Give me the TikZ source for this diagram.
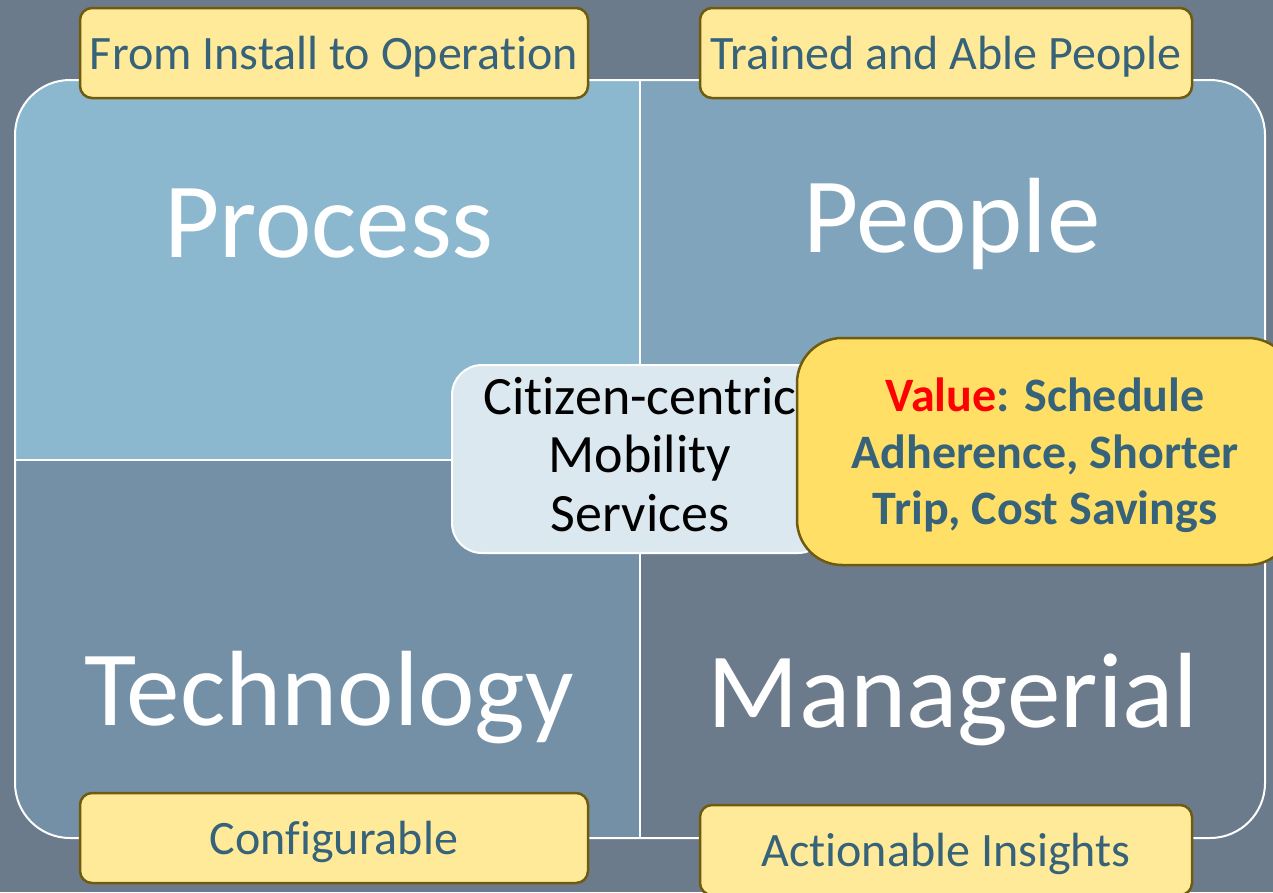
\documentclass[tikz,border=0pt]{standalone}
\usepackage{fontspec}
\setmainfont[Ligatures=NoCommon]{Carlito}
\usepackage{tikz}
\usetikzlibrary{positioning}

\definecolor{bgslate}{HTML}{6C7B8C}
\definecolor{qproc}{HTML}{8BB8CE}
\definecolor{qpeop}{HTML}{7FA4BB}
\definecolor{qtech}{HTML}{7490A7}
\definecolor{qmgr}{HTML}{6C7B8C}
\definecolor{tagfill}{HTML}{FFEA99}
\definecolor{tagline}{HTML}{6F5B0F}
\definecolor{tagtext}{HTML}{36627A}
\definecolor{valfill}{HTML}{FFDF66}
\definecolor{centfill}{HTML}{DCE8EF}

\tikzset{
	tag/.style={draw=tagline, line width=2.5pt, fill=tagfill, rounded corners=12pt,
		text=tagtext, minimum width=508pt, minimum height=90pt,
		text height=33pt, text depth=0pt, font=\fontsize{48}{52}\selectfont},
	word/.style={text=white, anchor=base, font=\fontsize{107}{112}\selectfont},
}

\begin{document}
\begin{tikzpicture}[x=1pt, y=-1pt]
	\useasboundingbox (0,0) rectangle (1273,892);
	\clip (0,0) rectangle (1273,892);
	\fill[bgslate] (0,0) rectangle (1273,892);
	
	% the four quadrants
	\coordinate (n) at (640,80);
	\coordinate (s) at (640,838);
	\coordinate (w) at (15,460);
	\coordinate (e) at (1265,460);
	\begin{scope}
		\clip[rounded corners=55pt] (15,80) rectangle (1265,838);
		\fill[qproc] (15,80) rectangle (640,460);
		\fill[qpeop] (640,80) rectangle (1265,460);
		\fill[qtech] (15,460) rectangle (640,838);
		\fill[qmgr] (640,460) rectangle (1265,838);
	\end{scope}
	\draw[white, line width=2pt, rounded corners=55pt] (15,80) rectangle (1265,838);
	\draw[white, line width=1.5pt] (n) -- (s);
	\draw[white, line width=1.5pt] (w) -- (e);
	
	\node[word] (q1) at (329,257) {Process};
	\node[word] (q2) at (952,252) {People};
	\node[word] (q3) at (329,725) {Technology};
	\node[word] (q4) at (953,727) {Managerial};
	
	% centre and value
	\node[draw=white, line width=2pt, fill=centfill, rounded corners=30pt,
		minimum width=376pt, minimum height=188pt, align=center,
		font=\fontsize{54}{58.5}\selectfont] (c) at (640,459)
		{Citizen-centric\\Mobility\\Services\rule[-10pt]{0pt}{10pt}};
	\node[draw=tagline, line width=2.5pt, fill=valfill, rounded corners=45pt,
		minimum width=496pt, minimum height=227pt, align=center, text=tagtext,
		font=\fontsize{48}{56.5}\selectfont\bfseries] (v) at (1045,451.5)
		{\rule{0pt}{42pt}\textcolor{red}{Value}: Schedule\\Adherence, Shorter\\Trip, Cost Savings};
	
	% labels
	\node[tag] (l1) at (334,53) {From Install to Operation};
	\node[tag, minimum width=492pt] (l2) at (946,53) {Trained and Able People};
	\node[tag] (l3) at (334,838) {Configurable};
	\node[tag, minimum width=492pt] (l4) at (946,850) {Actionable Insights};
\end{tikzpicture}
\end{document}
